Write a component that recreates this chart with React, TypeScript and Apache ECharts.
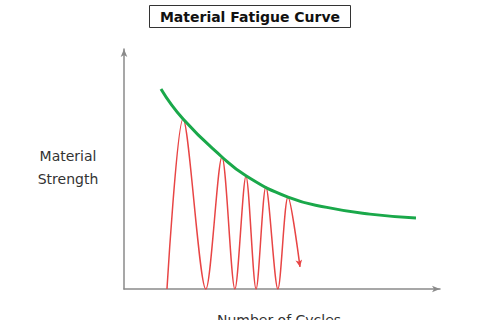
import React, { useEffect, useRef } from "react";
import * as echarts from "echarts";

const titleText = "Material Fatigue Curve";
const yName = "Material\nStrength";
const xName = "Number of Cycles";

// Strength envelope (green), x = cycles (arbitrary units 0..100), y = strength (0..100)
const envelopeX = [11.7, 18.7, 31.0, 38.6, 51.9, 64.2, 77.8, 92.4];
const envelopeY = [83.3, 70.8, 55.0, 47.2, 38.3, 34.0, 31.2, 29.6];

// Loading oscillation (red)
const stressX = [13.6, 18.7, 25.9, 31.0, 35.1, 38.6, 41.8, 44.9, 48.7, 51.9, 55.7];
const stressY = [0, 70.8, 0, 55.0, 0, 47.0, 0, 42.6, 0, 38.3, 9.2];

export default function App() {
  const ref = useRef<HTMLDivElement>(null);
  useEffect(() => {
    if (!ref.current) return;
    const chart = echarts.init(ref.current, undefined, { renderer: "svg" });
    const font = "'DejaVu Sans', Verdana, sans-serif";
    const stressData = stressX.map((x, i) => {
      const last = i === stressX.length - 1;
      return last
        ? { value: [x, stressY[i]], symbol: "arrow", symbolSize: [5, 7], symbolRotate: 190 }
        : { value: [x, stressY[i]], symbol: "none" };
    });
    chart.setOption({
      animation: false,
      backgroundColor: "#ffffff",
      title: {
        text: titleText,
        left: "center",
        top: 5,
        padding: [5, 11, 4, 11],
        borderColor: "#333333",
        borderWidth: 1,
        textStyle: { fontFamily: font, fontWeight: "bold", fontSize: 14, color: "#111111" },
      },
      grid: { left: 124, right: 60, top: 49, bottom: 31 },
      xAxis: {
        type: "value",
        min: 0,
        max: 100,
        axisLine: {
          show: true,
          symbol: ["none", "arrow"],
          symbolSize: [5, 8],
          lineStyle: { color: "#8a8a8a", width: 1.5 },
        },
        axisTick: { show: false },
        axisLabel: { show: false },
        splitLine: { show: false },
      },
      yAxis: {
        type: "value",
        min: 0,
        max: 100,
        axisLine: {
          show: true,
          symbol: ["none", "arrow"],
          symbolSize: [5, 8],
          lineStyle: { color: "#8a8a8a", width: 1.5 },
        },
        axisTick: { show: false },
        axisLabel: { show: false },
        splitLine: { show: false },
      },
      graphic: [
        {
          type: "text",
          x: 68,
          y: 144,
          style: {
            text: yName,
            font: `14px ${font}`,
            fill: "#333333",
            textAlign: "center",
            lineHeight: 23,
          },
        },
        {
          type: "text",
          x: 279,
          y: 313,
          style: {
            text: xName,
            font: `14px ${font}`,
            fill: "#333333",
            textAlign: "center",
          },
        },
      ],
      series: [
        {
          type: "line",
          data: stressData,
          smooth: 0.3,
          showSymbol: true,
          lineStyle: { color: "#e84545", width: 1.5 },
          itemStyle: { color: "#e84545" },
          z: 2,
        },
        {
          type: "line",
          data: envelopeX.map((x, i) => [x, envelopeY[i]]),
          smooth: true,
          symbol: "none",
          lineStyle: { color: "#1aa84a", width: 3 },
          z: 3,
        },
      ],
    });
    return () => chart.dispose();
  }, []);
  return (
    <div
      ref={ref}
      style={{ position: "fixed", left: 0, top: 0, width: 500, height: 320, background: "#fff" }}
    />
  );
}
